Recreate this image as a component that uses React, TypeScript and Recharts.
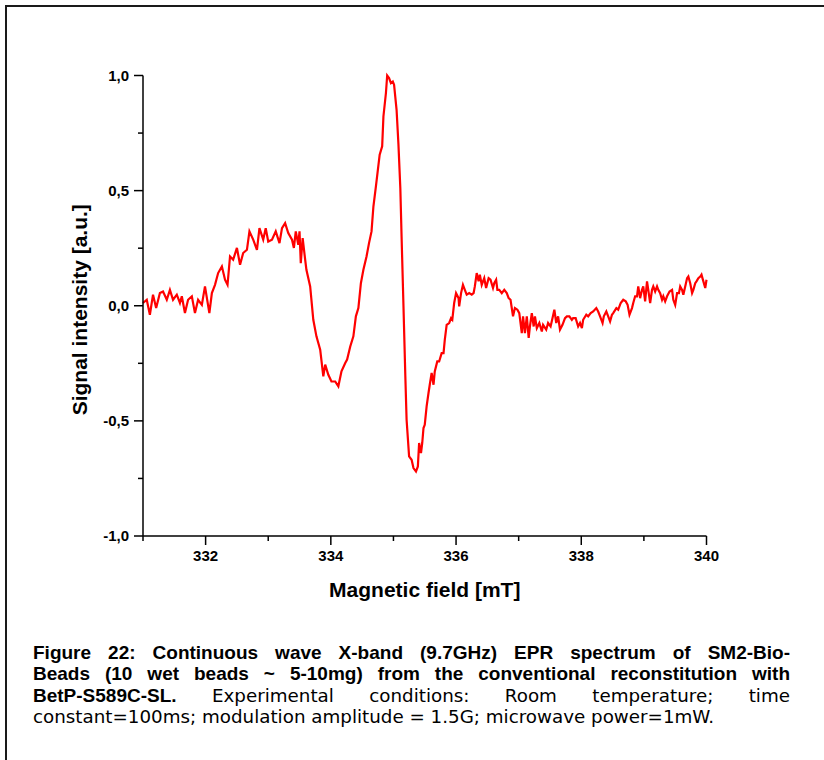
import { LineChart, Line, XAxis, YAxis } from 'recharts';

// Magnetic field [mT]
const fieldMT = [
  331.0, 331.06, 331.11, 331.16, 331.21, 331.27, 331.32, 331.38, 331.43, 331.48,
  331.54, 331.59, 331.62, 331.67, 331.72, 331.78, 331.83, 331.88, 331.94, 331.99,
  332.06, 332.1, 332.15, 332.2, 332.26, 332.31, 332.35, 332.39, 332.44, 332.5,
  332.55, 332.6, 332.66, 332.7, 332.76, 332.82, 332.86, 332.92, 332.96, 333.0,
  333.06, 333.12, 333.18, 333.22, 333.27, 333.32, 333.38, 333.41, 333.44, 333.48,
  333.5, 333.52, 333.55, 333.59, 333.61, 333.67, 333.72, 333.77, 333.83, 333.88,
  333.91, 333.96, 334.01, 334.07, 334.12, 334.17, 334.23, 334.26, 334.31, 334.36,
  334.4, 334.44, 334.48, 334.52, 334.57, 334.61, 334.65, 334.68, 334.72, 334.78,
  334.82, 334.84, 334.88, 334.9, 334.93, 334.96, 334.99, 335.01, 335.05, 335.08,
  335.11, 335.13, 335.16, 335.19, 335.21, 335.25, 335.29, 335.32, 335.36, 335.39,
  335.41, 335.44, 335.46, 335.48, 335.5, 335.53, 335.56, 335.58, 335.61, 335.64,
  335.66, 335.7, 335.73, 335.77, 335.8, 335.82, 335.85, 335.89, 335.92, 335.94,
  335.97, 336.0, 336.04, 336.05, 336.08, 336.11, 336.14, 336.17, 336.21, 336.25,
  336.28, 336.3, 336.33, 336.36, 336.38, 336.41, 336.45, 336.48, 336.52, 336.55,
  336.59, 336.61, 336.64, 336.66, 336.69, 336.73, 336.77, 336.81, 336.84, 336.87,
  336.91, 336.94, 336.98, 337.01, 337.05, 337.07, 337.1, 337.13, 337.16, 337.18,
  337.21, 337.24, 337.26, 337.29, 337.33, 337.37, 337.39, 337.44, 337.47, 337.51,
  337.54, 337.57, 337.6, 337.63, 337.66, 337.7, 337.74, 337.77, 337.81, 337.85,
  337.87, 337.91, 337.95, 337.98, 338.01, 338.03, 338.08, 338.11, 338.15, 338.19,
  338.24, 338.27, 338.3, 338.34, 338.36, 338.4, 338.43, 338.46, 338.49, 338.51,
  338.56, 338.59, 338.63, 338.67, 338.71, 338.74, 338.77, 338.81, 338.83, 338.86,
  338.89, 338.91, 338.94, 338.97, 338.99, 339.02, 339.05, 339.07, 339.1, 339.13,
  339.15, 339.18, 339.21, 339.23, 339.26, 339.29, 339.31, 339.34, 339.37, 339.41,
  339.45, 339.47, 339.5, 339.53, 339.56, 339.58, 339.61, 339.63, 339.66, 339.69,
  339.71, 339.74, 339.77, 339.79, 339.82, 339.84, 339.87, 339.9, 339.92, 339.95,
  339.98, 340.0,
];

// Signal intensity [a.u.]
const signal = [
  0.012, 0.026, -0.039, 0.048, -0.01, 0.055, 0.062, 0.026, 0.069, 0.026,
  0.048, 0.012, 0.041, -0.032, 0.026, 0.041, -0.032, 0.026, 0.004, 0.084,
  -0.032, 0.055, 0.091, 0.142, 0.171, 0.113, 0.091, 0.214, 0.2, 0.251,
  0.178, 0.229, 0.243, 0.323, 0.287, 0.243, 0.337, 0.287, 0.337, 0.279,
  0.287, 0.323, 0.272, 0.337, 0.359, 0.316, 0.287, 0.251, 0.323, 0.265,
  0.323, 0.185, 0.294, 0.2, 0.156, 0.084, -0.061, -0.133, -0.191, -0.307,
  -0.256, -0.3, -0.329, -0.329, -0.35, -0.285, -0.249, -0.234, -0.177, -0.133,
  -0.046, -0.01, 0.098, 0.156, 0.214, 0.272, 0.323, 0.431, 0.518, 0.656,
  0.692, 0.822, 0.924, 1.0, 0.989, 0.967, 0.974, 0.96, 0.851, 0.7,
  0.51, 0.3, 0.0, -0.307, -0.495, -0.654, -0.669, -0.705, -0.72, -0.698,
  -0.596, -0.64, -0.596, -0.531, -0.517, -0.437, -0.379, -0.343, -0.292, -0.343,
  -0.285, -0.242, -0.242, -0.206, -0.206, -0.148, -0.083, -0.075, -0.054, -0.061,
  0.012, 0.055, 0.033, -0.003, 0.055, 0.091, 0.069, 0.048, 0.055, 0.048,
  0.055, 0.084, 0.142, 0.106, 0.135, 0.091, 0.12, 0.077, 0.12, 0.113,
  0.077, 0.098, 0.113, 0.069, 0.069, 0.055, 0.069, 0.055, 0.033, 0.026,
  -0.046, -0.01, -0.017, -0.032, -0.119, -0.046, -0.119, -0.046, -0.14, -0.09,
  -0.032, -0.09, -0.046, -0.097, -0.075, -0.112, -0.083, -0.104, -0.075, -0.09,
  -0.054, -0.017, -0.075, -0.046, -0.104, -0.083, -0.054, -0.046, -0.046, -0.061,
  -0.054, -0.054, -0.09, -0.075, -0.097, -0.061, -0.039, -0.046, -0.032, -0.025,
  -0.01, -0.025, -0.046, -0.075, -0.046, -0.025, -0.046, -0.068, -0.039, -0.032,
  -0.01, -0.017, 0.012, 0.026, 0.019, 0.004, -0.039, -0.01, 0.012, 0.041,
  0.041, 0.084, 0.033, 0.069, 0.084, 0.019, 0.106, 0.069, 0.012, 0.069,
  0.084, 0.062, 0.084, 0.069, 0.055, 0.026, 0.041, 0.019, 0.041, 0.062,
  0.069, 0.026, 0.004, 0.055, 0.055, 0.084, 0.069, 0.048, 0.084, 0.12,
  0.127, 0.098, 0.055, 0.069, 0.098, 0.106, 0.12, 0.127, 0.135, 0.106,
  0.077, 0.113,
];

const xTicks = [331, 332, 333, 334, 335, 336, 337, 338, 339, 340];
const yTicks = [-1, -0.75, -0.5, -0.25, 0, 0.25, 0.5, 0.75, 1];

const data = fieldMT.map((b, i) => ({ field: b, signal: signal[i] }));

const FONT = '"Liberation Sans", Arial, sans-serif';

const XTick = ({ x, y, payload }: any) => {
  const major = payload.value % 2 === 0;
  return (
    <g>
      <line x1={x} x2={x} y1={y} y2={y + (major ? 9 : 5)} stroke="#000" strokeWidth={1.5} />
      {major && (
        <text x={x} y={y + 25} textAnchor="middle" fontFamily={FONT} fontWeight={700} fontSize={15} fill="#000">
          {payload.value}
        </text>
      )}
    </g>
  );
};

const YTick = ({ x, y, payload }: any) => {
  const v = payload.value;
  const major = Math.abs(v * 2 - Math.round(v * 2)) < 1e-6;
  return (
    <g>
      <line x1={x} x2={x - (major ? 9 : 5)} y1={y} y2={y} stroke="#000" strokeWidth={1.5} />
      {major && (
        <text x={x - 14} y={y + 5} textAnchor="end" fontFamily={FONT} fontWeight={700} fontSize={15} fill="#000">
          {v.toFixed(1).replace('.', ',')}
        </text>
      )}
    </g>
  );
};

const XTitle = ({ viewBox }: any) => (
  <text x={viewBox.x + viewBox.width / 2} y={viewBox.y + 61} textAnchor="middle" fontFamily={FONT} fontWeight={700} fontSize={21} fill="#000">
    Magnetic field [mT]
  </text>
);

const YTitle = ({ viewBox }: any) => (
  <text
    transform={`translate(87, ${viewBox.y + viewBox.height / 2 + 4}) rotate(-90)`}
    textAnchor="middle"
    fontFamily={FONT}
    fontWeight={700}
    fontSize={21}
    fill="#000"
  >
    Signal intensity [a.u.]
  </text>
);

const bold: React.CSSProperties = { fontFamily: FONT, fontWeight: 700, fontSize: 19 };
const plain: React.CSSProperties = { fontFamily: '"DejaVu Sans", sans-serif', fontWeight: 400, fontSize: 18.3 };
const lineStyle: React.CSSProperties = { height: 21.3, whiteSpace: 'nowrap', textAlign: 'justify', textAlignLast: 'justify' };

export default function App() {
  return (
    <div style={{ position: 'absolute', left: 0, top: 0, width: 824, height: 760, overflow: 'hidden', background: '#fff' }}>
      <div style={{ position: 'absolute', left: 5, top: 5, width: 900, height: 900, borderTop: '2px solid #1a1a1a', borderLeft: '2px solid #1a1a1a' }} />
      <div style={{ position: 'absolute', left: 0, top: 0 }}>
        <LineChart width={824} height={620} data={data} margin={{ top: 75.5, right: 117.5, bottom: 0, left: 0 }}>
          <XAxis
            dataKey="field"
            type="number"
            domain={[331, 340]}
            ticks={xTicks}
            interval={0}
            height={84}
            tickSize={0}
            tickMargin={0}
            tickLine={false}
            tick={<XTick />}
            axisLine={{ stroke: '#000', strokeWidth: 1.5 }}
            label={<XTitle />}
          />
          <YAxis
            type="number"
            domain={[-1, 1]}
            ticks={yTicks}
            interval={0}
            width={143}
            tickSize={0}
            tickMargin={0}
            tickLine={false}
            tick={<YTick />}
            axisLine={{ stroke: '#000', strokeWidth: 1.5 }}
            label={<YTitle />}
          />
          <Line type="linear" dataKey="signal" stroke="#ff0000" strokeWidth={2.2} dot={false} isAnimationActive={false} />
        </LineChart>
      </div>
      <div style={{ position: 'absolute', left: 33, top: 642, width: 757, fontSize: 18, lineHeight: '21.3px', color: '#000', fontFamily: FONT }}>
        <div style={lineStyle}>
          <span style={bold}>Figure 22: Continuous wave X-band (9.7GHz) EPR spectrum of SM2-Bio-</span>
        </div>
        <div style={lineStyle}>
          <span style={bold}>Beads (10 wet beads ~ 5-10mg) from the conventional reconstitution with</span>
        </div>
        <div style={lineStyle}>
          <span style={bold}>BetP-S589C-SL.</span>
          <span style={plain}> Experimental conditions: Room temperature; time</span>
        </div>
        <div style={{ ...lineStyle, textAlign: 'left', textAlignLast: 'left' }}>
          <span style={plain}>constant=100ms; modulation amplitude = 1.5G; microwave power=1mW.</span>
        </div>
      </div>
    </div>
  );
}
